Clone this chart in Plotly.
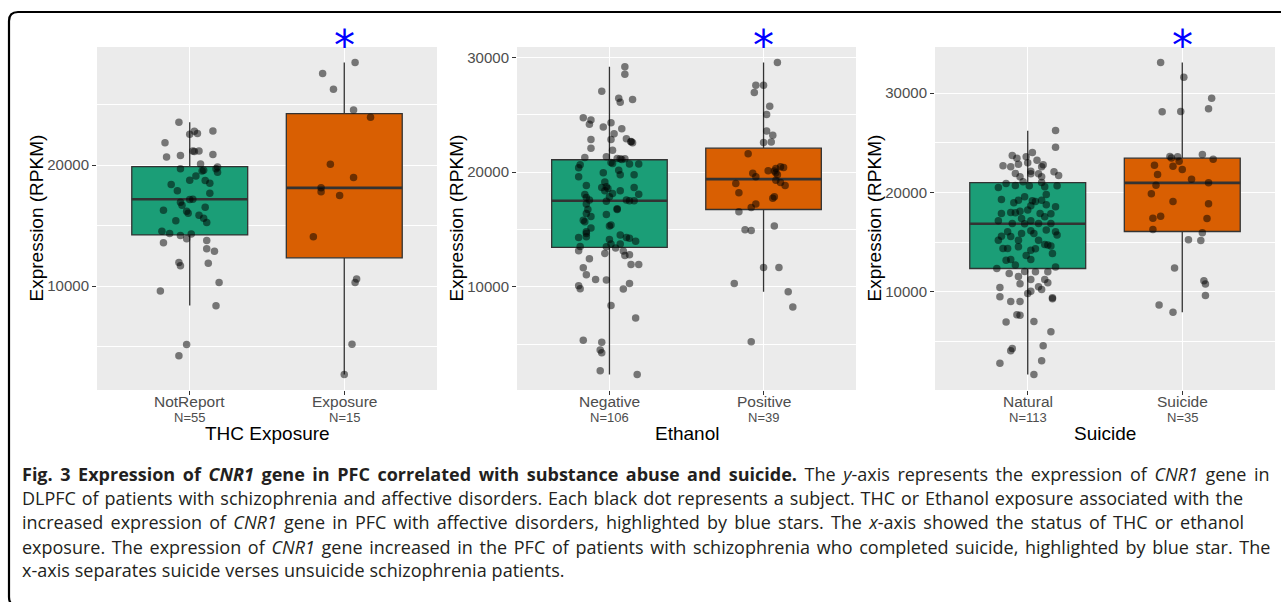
import plotly.graph_objects as go

# ---------------- data ----------------
panel_titles = ["THC Exposure", "Ethanol", "Suicide"]
thc_categories = ["NotReport", "Exposure"]
eth_categories = ["Negative", "Positive"]
sui_categories = ["Natural", "Suicide"]
thc_counts = [55, 15]
eth_counts = [106, 39]
sui_counts = [113, 35]
star_category = [2, 2, 2]   # category index with a blue star

# box statistics: [q1, median, q3, lower whisker, upper whisker]
thc_notreport_box = [14240, 17190, 19890, 8400, 23550]
thc_exposure_box = [12340, 18130, 24270, 2700, 28490]
eth_negative_box = [13430, 17500, 21080, 2350, 29190]
eth_positive_box = [16740, 19390, 22090, 9560, 29560]
sui_natural_box = [12360, 16850, 21000, 1710, 26200]
sui_suicide_box = [16080, 20970, 23450, 7970, 33060]

# individual subjects (expression) and their horizontal jitter (category units)
thc_notreport_vals = [23550, 22810, 22620, 22560, 22840, 21870, 21180, 21180, 20690, 20800,
                      20880, 20110, 19700, 19860, 19700, 19590, 19420, 19120, 18760, 18730,
                      18510, 18400, 17880, 17690, 17190, 16940, 16690, 16530, 16280, 16200,
                      16030, 15870, 15620, 15400, 15260, 14550, 14350, 14320, 14190, 13910,
                      13770, 13580, 13090, 12890, 11960, 11680, 11900, 10300, 9590, 8370,
                      5180, 4240, 19530, 21130, 17160]
thc_notreport_jit = [-0.07, 0.03, 0.05, 0.00, 0.15, -0.16, 0.02, 0.06, -0.15, -0.06,
                     0.15, 0.07, -0.06, 0.18, 0.17, 0.09, 0.18, 0.04, 0.00, 0.10,
                     0.13, -0.12, -0.08, 0.13, 0.02, -0.06, -0.05, 0.10, -0.17, -0.02,
                     -0.01, 0.06, 0.09, -0.09, 0.11, -0.18, -0.13, 0.01, -0.06, -0.02,
                     0.11, -0.17, 0.11, 0.16, -0.07, -0.06, 0.12, 0.19, -0.19, 0.17,
                     -0.02, -0.07, 0.08, 0.03, 0.00]
thc_exposure_vals = [28490, 27580, 26280, 24570, 23970, 20080, 18980, 18130, 17800, 17490,
                     14080, 10600, 10300, 5200, 2700]
thc_exposure_jit = [0.07, -0.14, -0.07, 0.06, 0.17, -0.09, 0.06, -0.15, -0.15, -0.03,
                    -0.20, 0.08, 0.07, 0.05, 0.00]

eth_negative_vals = [29190, 28550, 27060, 26450, 26100, 26340, 24740, 24540, 24190, 24300,
                     23950, 23780, 23340, 22850, 22850, 22910, 22670, 22560, 22090, 21920,
                     21280, 21340, 21190, 21100, 21160, 20840, 20640, 20760, 20700, 20700,
                     20380, 20170, 19940, 19770, 19590, 19770, 19130, 18580, 18720, 18840,
                     18660, 18050, 18370, 18080, 17790, 18660, 17500, 17500, 17470, 17210,
                     16740, 16800, 16740, 16310, 16400, 16130, 15810, 15670, 15380, 15120,
                     15290, 14800, 14360, 14510, 14300, 14240, 14300, 13980, 14130, 13520,
                     13720, 13370, 13490, 13720, 13140, 13110, 12730, 12790, 12910, 12440,
                     11950, 11950, 11660, 11050, 10640, 10580, 10290, 10090, 9830, 9800,
                     8370, 7270, 5320, 5150, 4480, 4240, 2670, 2350,
                     17560, 18370, 22650, 21160, 14650, 18140, 17560, 17850]
eth_negative_jit = [0.10, 0.10, -0.05, 0.06, 0.07, 0.15, -0.17, -0.12, -0.13, 0.01,
                    -0.04, 0.08, 0.03, -0.12, 0.01, 0.11, 0.14, 0.15, -0.12, 0.02,
                    -0.16, -0.02, 0.05, 0.08, 0.10, 0.01, -0.19, 0.02, 0.13, 0.19,
                    -0.20, 0.06, -0.04, 0.07, -0.20, 0.16, -0.03, -0.01, -0.02, -0.15,
                    0.16, -0.16, 0.07, 0.19, -0.15, -0.05, 0.13, 0.16, -0.02, -0.15,
                    -0.14, 0.05, 0.05, -0.02, -0.15, -0.12, -0.17, -0.16, 0.01, -0.12,
                    0.00, -0.15, -0.15, 0.07, 0.11, 0.13, -0.20, 0.17, 0.00, -0.19,
                    0.01, 0.04, -0.02, 0.07, -0.20, 0.09, 0.10, 0.13, -0.03, -0.13,
                    0.14, 0.19, -0.17, -0.15, -0.09, -0.02, 0.13, -0.20, -0.19, 0.09,
                    0.01, 0.17, -0.17, -0.05, -0.06, -0.05, -0.06, 0.18,
                    -0.13, -0.03, 0.14, 0.07, -0.15, 0.02, 0.11, 0.00]
eth_positive_vals = [29560, 27590, 27590, 26950, 25760, 25030, 23600, 23230, 22590, 22620,
                     21600, 19910, 19590, 20120, 20090, 20320, 20410, 20470, 19770, 19300,
                     19100, 18840, 19010, 18200, 17730, 17850, 17210, 16920, 16540, 14970,
                     14910, 15290, 11690, 11690, 10290, 9560, 8230, 5200, 19940]
eth_positive_jit = [0.09, -0.05, 0.00, -0.06, 0.04, 0.02, 0.02, 0.06, 0.00, 0.05,
                    -0.10, -0.07, -0.05, 0.03, 0.07, 0.08, 0.13, 0.11, 0.09, 0.08,
                    0.11, 0.14, -0.18, -0.16, 0.06, 0.07, -0.05, -0.08, -0.16, -0.12,
                    -0.08, 0.07, 0.00, 0.10, -0.19, 0.16, 0.19, -0.08, 0.08]

sui_natural_vals = [26230, 24560, 24020, 23720, 23450, 23590, 22680, 22580, 22850, 22980,
                    22780, 22580, 22140, 21880, 21880, 21580, 22080, 21710, 21580, 21000,
                    20500, 20900, 20700, 20670, 20670, 19800, 19300, 18960, 19160, 19100,
                    18660, 18560, 18760, 17990, 17960, 18120, 18230, 17860, 17150, 17390,
                    16850, 16880, 17150, 16150, 16220, 16050, 16050, 15610, 15580, 15720,
                    15210, 15210, 15210, 14770, 14610, 14710, 14370, 14370, 14540, 14340,
                    13670, 13270, 13270, 12700, 12360, 12500, 12060, 12030, 12030, 11560,
                    11260, 11260, 10820, 10920, 10450, 10520, 10250, 10080, 9410, 9310,
                    9520, 9050, 9050, 7710, 7670, 6970, 7040, 6000, 4590, 4320,
                    4090, 2820, 3080, 1710,
                    19230, 19570, 17890, 16890, 16890, 15880, 17890, 19230, 14200, 13870,
                    13200, 20570, 21070, 21910, 23250, 15880, 11860, 9850, 17550]
sui_natural_jit = [0.18, 0.18, 0.03, -0.10, -0.07, -0.01, -0.16, -0.11, -0.06, 0.00,
                   0.10, 0.09, 0.02, 0.02, 0.07, 0.09, 0.17, 0.20, -0.05, 0.09,
                   -0.19, -0.14, -0.08, 0.01, 0.19, 0.12, -0.17, -0.09, 0.03, 0.05,
                   0.02, 0.18, 0.12, -0.11, -0.08, -0.05, 0.00, 0.15, -0.19, -0.04,
                   -0.02, 0.07, 0.02, 0.02, 0.12, 0.18, -0.13, -0.17, -0.11, 0.19,
                   -0.19, -0.06, 0.07, 0.11, 0.15, 0.13, -0.16, -0.13, -0.06, 0.05,
                   -0.01, 0.02, -0.11, -0.08, -0.20, 0.18, -0.02, 0.05, 0.13, -0.06,
                   0.11, 0.02, -0.05, 0.13, -0.18, 0.07, 0.09, 0.02, 0.16, 0.16,
                   -0.18, -0.11, -0.05, -0.07, -0.05, -0.14, 0.04, 0.15, 0.10, -0.10,
                   -0.11, -0.18, 0.09, 0.04,
                   -0.06, -0.02, 0.08, -0.10, 0.15, -0.04, -0.17, 0.09, 0.02, 0.16,
                   -0.14, 0.11, -0.03, -0.08, 0.06, 0.04, -0.12, 0.00, 0.11]
sui_suicide_vals = [33060, 31590, 29480, 28110, 28140, 28410, 23820, 23620, 23480, 23150,
                    23350, 22750, 22650, 22310, 21810, 21340, 20740, 20970, 19870, 19100,
                    18860, 17420, 17620, 17390, 16280, 15950, 15240, 15180, 12400, 11120,
                    10790, 9650, 8680, 7970, 23590]
sui_suicide_jit = [-0.14, 0.01, 0.19, -0.13, -0.01, 0.17, 0.13, -0.08, -0.07, -0.02,
                   0.20, -0.18, -0.06, 0.00, -0.16, 0.06, -0.17, 0.17, -0.20, -0.06,
                   0.17, -0.19, -0.14, 0.16, -0.19, 0.13, 0.04, 0.12, -0.05, 0.14,
                   0.15, 0.15, -0.15, -0.06, -0.03]

caption_lines = [
    "<b>Fig. 3 Expression of <i>CNR1</i> gene in PFC correlated with substance abuse and suicide.</b> "
    "The <i>y</i>-axis represents the expression of <i>CNR1</i> gene in",
    "DLPFC of patients with schizophrenia and affective disorders. Each black dot represents a subject. "
    "THC or Ethanol exposure associated with the",
    "increased expression of <i>CNR1</i> gene in PFC with affective disorders, highlighted by blue stars. "
    "The <i>x</i>-axis showed the status of THC or ethanol",
    "exposure. The expression of <i>CNR1</i> gene increased in the PFC of patients with schizophrenia "
    "who completed suicide, highlighted by blue star. The",
    "x-axis separates suicide verses unsuicide schizophrenia patients.",
]

# ---------------- styling / layout ----------------
W, H = 1281, 602
FILLS = ["#1B9E77", "#D95F02"]
AXFONT = "Liberation Sans, Arial, sans-serif"
CAPFONT = "Open Sans, sans-serif"
CAP_WORD_SPACING = [2.9, 1.2, 2.5, 2.0, 0.3]   # px, to match each caption line's length


def px(x):
    return x / W


def py(y):
    return 1 - y / H


panels = [
    (panel_titles[0], thc_categories, thc_counts,
     [thc_notreport_box, thc_exposure_box],
     [thc_notreport_vals, thc_exposure_vals], [thc_notreport_jit, thc_exposure_jit]),
    (panel_titles[1], eth_categories, eth_counts,
     [eth_negative_box, eth_positive_box],
     [eth_negative_vals, eth_positive_vals], [eth_negative_jit, eth_positive_jit]),
    (panel_titles[2], sui_categories, sui_counts,
     [sui_natural_box, sui_suicide_box],
     [sui_natural_vals, sui_suicide_vals], [sui_natural_jit, sui_suicide_jit]),
]
panel_px = [(97, 437), (517, 856), (935, 1275)]
plot_top, plot_bottom = 47, 390
BOXW = 0.75

fig = go.Figure()
annotations = []
layout_axes = {}

for i, (title, cats, counts, boxes, vals, jits) in enumerate(panels):
    n = i + 1
    xa = "x" if n == 1 else f"x{n}"
    ya = "y" if n == 1 else f"y{n}"
    # boxes
    for k, b in enumerate(boxes):
        fig.add_trace(go.Box(
            x=[k + 1], q1=[b[0]], median=[b[1]], q3=[b[2]],
            lowerfence=[b[3]], upperfence=[b[4]],
            width=BOXW, whiskerwidth=0, boxpoints=False,
            fillcolor=FILLS[k], line=dict(color="#333333", width=1.3),
            xaxis=xa, yaxis=ya, showlegend=False, hoverinfo="skip"))
    # thicker median lines
    for k, b in enumerate(boxes):
        fig.add_trace(go.Scatter(
            x=[k + 1 - BOXW / 2, k + 1 + BOXW / 2], y=[b[1], b[1]], mode="lines",
            line=dict(color="#333333", width=2.6), xaxis=xa, yaxis=ya,
            showlegend=False, hoverinfo="skip"))
    # jittered subjects
    for k in range(2):
        fig.add_trace(go.Scatter(
            x=[k + 1 + d for d in jits[k]], y=vals[k], mode="markers",
            marker=dict(color="rgba(0,0,0,0.5)", size=7.5, line=dict(width=0)),
            xaxis=xa, yaxis=ya, showlegend=False, hoverinfo="skip"))

    lo = min(min(vals[0] + vals[1]), boxes[0][3], boxes[1][3])
    hi = max(max(vals[0] + vals[1]), boxes[0][4], boxes[1][4])
    pad = 0.05 * (hi - lo)
    x0, x1 = panel_px[i]
    layout_axes["xaxis" if n == 1 else f"xaxis{n}"] = dict(
        domain=[px(x0), px(x1)], anchor=ya, range=[0.4, 2.6],
        tickmode="array", tickvals=[1, 2], ticktext=cats, showticklabels=False,
        showgrid=True, gridcolor="white", gridwidth=1.4, zeroline=False,
        ticks="outside", ticklen=4, tickwidth=1.1, tickcolor="#333333", fixedrange=True)
    layout_axes["yaxis" if n == 1 else f"yaxis{n}"] = dict(
        domain=[py(plot_bottom), py(plot_top)], anchor=xa, range=[lo - pad, hi + pad],
        tickmode="linear", tick0=0, dtick=10000, tickformat="d",
        showgrid=True, gridcolor="white", gridwidth=1.4, zeroline=False,
        minor=dict(tickmode="linear", tick0=0, dtick=5000, showgrid=True,
                   gridcolor="white", gridwidth=0.6, ticks=""),
        ticks="outside", ticklen=4, tickwidth=1.1, tickcolor="#333333",
        tickfont=dict(family=AXFONT, size=15, color="#4D4D4D"), fixedrange=True)

    # category labels and N= labels
    for k in range(2):
        annotations.append(dict(
            text=cats[k], xref=xa, yref="paper", x=k + 1, y=py(401),
            xanchor="center", yanchor="middle", showarrow=False,
            font=dict(family=AXFONT, size=15.5, color="#4D4D4D")))
        annotations.append(dict(
            text=f"N={counts[k]}", xref=xa, yref="paper", x=k + 1, y=py(417),
            xanchor="center", yanchor="middle", showarrow=False,
            font=dict(family=AXFONT, size=13, color="#4D4D4D")))
    # x-axis title
    annotations.append(dict(
        text=title, xref="paper", yref="paper", x=px((x0 + x1) / 2), y=py(433),
        xanchor="center", yanchor="middle", showarrow=False,
        font=dict(family=AXFONT, size=19, color="black")))
    # y-axis title
    annotations.append(dict(
        text="Expression (RPKM)", textangle=-90, xref="paper", yref="paper",
        x=px(x0 - 61), y=py((plot_top + plot_bottom) / 2),
        xanchor="center", yanchor="middle", showarrow=False,
        font=dict(family=AXFONT, size=19, color="black")))
    # blue star
    annotations.append(dict(
        text="*", xref=xa, yref="paper", x=star_category[i], y=py(46),
        xanchor="center", yanchor="middle", showarrow=False,
        font=dict(family="DejaVu Sans", size=42, color="#0000FF")))

# caption
cap_y = [474, 498, 522, 547, 570]
for line, yy, ws in zip(caption_lines, cap_y, CAP_WORD_SPACING):
    annotations.append(dict(
        text=f"<span style='word-spacing:{ws}px'>{line}</span>",
        xref="paper", yref="paper", x=px(20), y=py(yy),
        xanchor="left", yanchor="middle", showarrow=False, align="left",
        font=dict(family=CAPFONT, size=18, color="#231F20")))

# rounded frame around the figure (left / top edges visible)
r = 9
lx, ty, by, rx = 9, 12, 606, 1290
frame = (f"M {px(lx + r)},{py(by)} Q {px(lx)},{py(by)} {px(lx)},{py(by - r)} "
         f"L {px(lx)},{py(ty + r)} Q {px(lx)},{py(ty)} {px(lx + r)},{py(ty)} "
         f"L {px(rx)},{py(ty)}")

fig.update_layout(
    width=W, height=H, margin=dict(l=0, r=0, t=0, b=0),
    paper_bgcolor="white", plot_bgcolor="#EBEBEB",
    showlegend=False, annotations=annotations,
    shapes=[dict(type="path", path=frame, xref="paper", yref="paper",
                 line=dict(color="black", width=2.2), layer="above")],
    **layout_axes)

fig.write_html("out.html", config={"displayModeBar": False},
               post_script="document.body.style.margin='0px';")
